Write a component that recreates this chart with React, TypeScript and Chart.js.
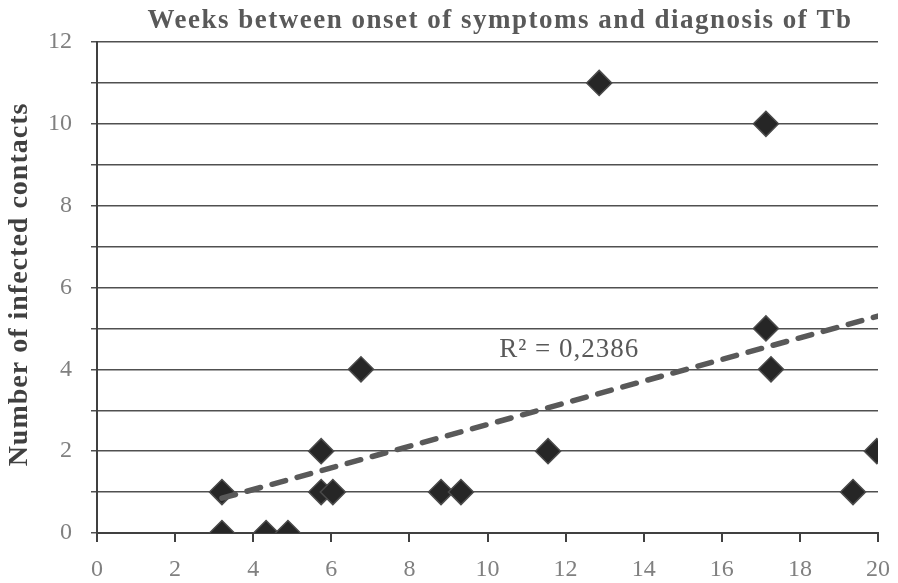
import React, { useEffect, useRef } from "react";
import { Chart, registerables } from "chart.js";

Chart.register(...registerables);

const weeks = [3.2, 3.2, 4.33, 4.89, 5.74, 5.74, 6.04, 6.76, 8.81, 9.32, 11.55, 12.86, 17.13, 17.13, 17.26, 19.36, 19.97];
const contacts = [1, 0, 0, 0, 2, 1, 1, 4, 1, 1, 2, 11, 10, 5, 4, 1, 2];
const trendX = [3.2, 20];
const trendY = [0.85, 5.3];
const titleText = "Weeks between onset of symptoms and diagnosis of Tb";
const yTitle = "Number of infected contacts";
const r2Text = "R² = 0,2386";
const r2Pos = { x: 10.3, y: 4.47 };

const SERIF = "'Liberation Serif', 'DejaVu Serif', serif";

const textPlugin = {
  id: "textPlugin",
  afterDraw(chart: any) {
    const { ctx, scales, chartArea } = chart;
    ctx.save();
    ctx.fillStyle = "#595959";
    ctx.font = `bold 27px ${SERIF}`;
    (ctx as any).letterSpacing = "1.5px";
    ctx.textAlign = "center";
    ctx.textBaseline = "middle";
    ctx.fillText(titleText, 500, 21);

    ctx.font = `27px ${SERIF}`;
    (ctx as any).letterSpacing = "1px";
    ctx.textAlign = "left";
    ctx.fillText(r2Text, scales.x.getPixelForValue(r2Pos.x), scales.y.getPixelForValue(r2Pos.y));

    ctx.fillStyle = "#404040";
    ctx.font = `bold 28px ${SERIF}`;
    (ctx as any).letterSpacing = "1px";
    ctx.textAlign = "center";
    ctx.translate(20, (chartArea.top + chartArea.bottom) / 2 - 3);
    ctx.rotate(-Math.PI / 2);
    ctx.fillText(yTitle, 0, 0);
    (ctx as any).letterSpacing = "0px";
    ctx.restore();
    (ctx as any).letterSpacing = "0px";
  },
};

export default function App() {
  const ref = useRef<HTMLCanvasElement>(null);
  useEffect(() => {
    if (!ref.current) return;
    const c2d = ref.current.getContext("2d") as any;
    if (c2d) c2d.letterSpacing = "0px";
    const chart = new Chart(ref.current, {
      type: "scatter",
      data: {
        datasets: [
          {
            label: "points",
            data: weeks.map((w, i) => ({ x: w, y: contacts[i] })),
            pointStyle: "rectRot",
            pointRadius: 12.5,
            pointBackgroundColor: "#262626",
            pointBorderColor: "#4a4a4a",
            pointBorderWidth: 1.5,
            showLine: false,
            order: 2,
          },
          {
            label: "trend",
            type: "line",
            data: trendX.map((x, i) => ({ x, y: trendY[i] })),
            borderColor: "#595959",
            borderWidth: 5.5,
            borderDash: [14, 12],
            borderCapStyle: "round",
            pointRadius: 0,
            fill: false,
            order: 1,
          },
        ],
      },
      options: {
        animation: false,
        responsive: false,
        maintainAspectRatio: false,
        layout: { padding: { top: 42, right: 20, left: 0, bottom: 0 } },
        plugins: {
          legend: { display: false },
          title: { display: false },
          tooltip: { enabled: false },
        },
        scales: {
          x: {
            type: "linear",
            min: 0,
            max: 20,
            ticks: {
              stepSize: 2,
              color: "#808080",
              font: { family: SERIF, size: 24 },
              padding: 13,
            },
            grid: {
              drawOnChartArea: false,
              drawTicks: true,
              tickLength: 9,
              color: "#404040",
              lineWidth: 2,
            },
            border: { display: true, color: "#404040", width: 2 },
            afterFit: (s: any) => {
              s.height = 50;
              s.paddingRight = 0;
              s.paddingLeft = 0;
            },
          },
          y: {
            type: "linear",
            min: 0,
            max: 12,
            ticks: {
              stepSize: 1,
              color: "#808080",
              font: { family: SERIF, size: 24 },
              padding: 19,
              callback: (v: any) => (Number(v) % 2 === 0 ? String(v) : ""),
            },
            grid: {
              drawTicks: true,
              tickLength: 6,
              color: "#505050",
              lineWidth: 1.5,
            },
            border: { display: true, color: "#404040", width: 2 },
            afterFit: (s: any) => {
              s.width = 97;
            },
          },
        },
      },
      plugins: [textPlugin],
    });
    return () => chart.destroy();
  }, []);
  return (
    <div style={{ position: "absolute", left: 0, top: 0, width: 898, height: 583, background: "#fff" }}>
      <canvas ref={ref} width={898} height={583} style={{ display: "block" }} />
    </div>
  );
}
